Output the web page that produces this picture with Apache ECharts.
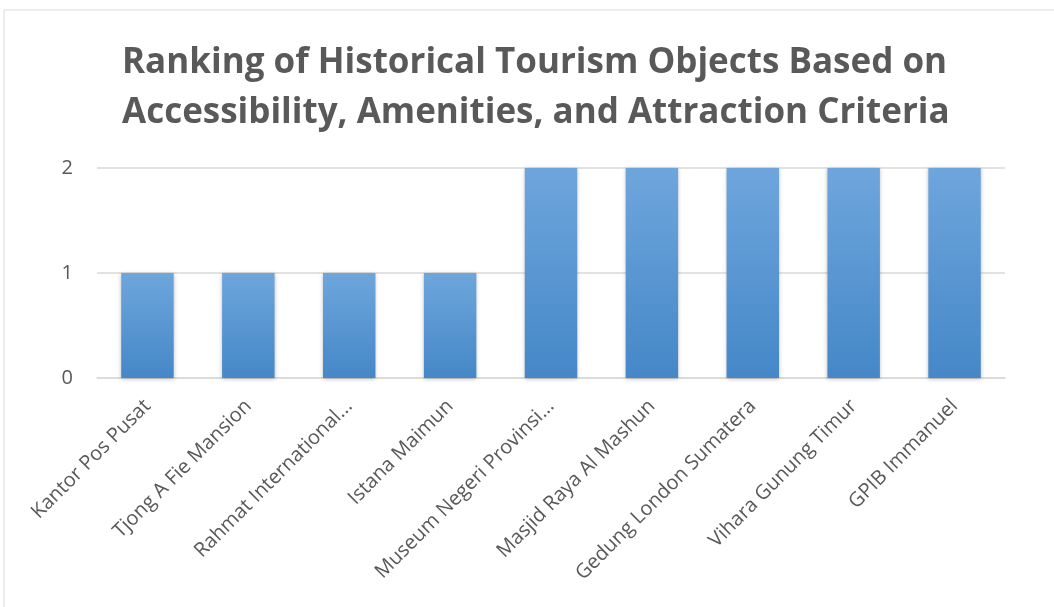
<!DOCTYPE html>
<html><head><meta charset="utf-8">
<script src="https://cdn.jsdelivr.net/npm/echarts@6/dist/echarts.min.js"></script>
<style>html,body{margin:0;padding:0;background:#fff}#c{width:1054px;height:607px}</style>
</head><body><div id="c"></div>
<script>
const titleText = "Ranking of Historical Tourism Objects Based on\nAccessibility, Amenities, and Attraction Criteria";
const categories = ["Kantor Pos Pusat","Tjong A Fie Mansion","Rahmat International...","Istana Maimun","Museum Negeri Provinsi...","Masjid Raya Al Mashun","Gedung London Sumatera","Vihara Gunung Timur","GPIB Immanuel"];
const rankValues = [1,1,1,1,2,2,2,2,2];
const yTicks = [0,1,2];

const chart = echarts.init(document.getElementById('c'));
chart.setOption({
  animation:false,
  graphic:[{type:'rect',shape:{x:4,y:10,width:1100,height:700},style:{fill:'none',stroke:'#d9d9d9',lineWidth:1},silent:true}],
  title:{text:titleText,left:117,top:33,textAlign:'left',textStyle:{fontFamily:'Open Sans',fontWeight:'bold',fontSize:35,color:'#595959',lineHeight:50,align:'center'}},
  grid:{left:97,right:49,top:168,bottom:229,containLabel:false},
  xAxis:{type:'category',data:categories,
    axisLine:{lineStyle:{color:'#d9d9d9',width:1.5}},axisTick:{show:false},
    axisLabel:{rotate:45,interval:0,fontFamily:'Open Sans',fontSize:20,color:'#595959',margin:25}},
  yAxis:{type:'value',min:yTicks[0],max:yTicks[yTicks.length-1],interval:1,
    axisLine:{show:false},axisTick:{show:false},
    splitLine:{lineStyle:{color:'#d9d9d9',width:1.5}},
    axisLabel:{fontFamily:'Open Sans',fontSize:20,color:'#595959',margin:24}},
  series:[{type:'bar',data:rankValues,barWidth:'52%',
    itemStyle:{color:new echarts.graphic.LinearGradient(0,0,0,1,[{offset:0,color:'#6ea6dc'},{offset:1,color:'#4587c8'}]),
      shadowBlur:4,shadowColor:'rgba(0,0,0,0.25)',shadowOffsetX:0,shadowOffsetY:1}}]
});
</script></body></html>
